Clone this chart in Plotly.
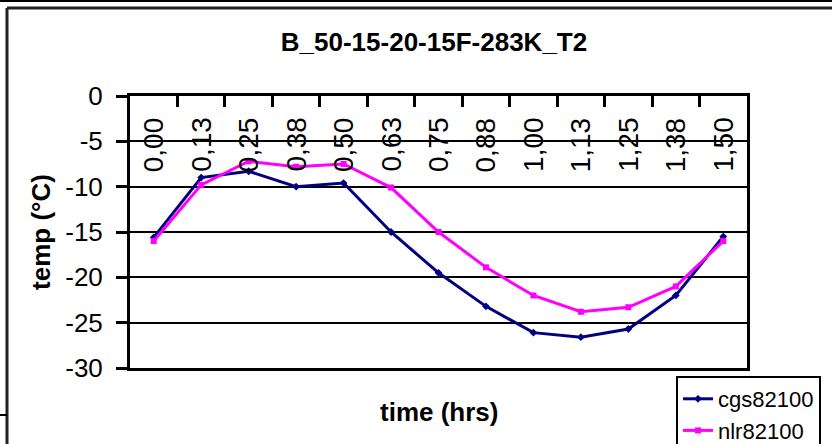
import plotly.graph_objects as go

# ---- data ----
time_labels = ["0,00", "0,13", "0,25", "0,38", "0,50", "0,63", "0,75",
               "0,88", "1,00", "1,13", "1,25", "1,38", "1,50"]
cgs82100 = [-15.6, -9.0, -8.3, -10.0, -9.6, -15.0, -19.5, -23.2, -26.1, -26.6, -25.7, -22.0, -15.5]
nlr82100 = [-16.0, -9.8, -7.2, -7.8, -7.5, -10.1, -15.0, -18.9, -22.0, -23.8, -23.3, -21.0, -16.0]
y_tickvals = [0, -5, -10, -15, -20, -25, -30]
y_ticktext = ["0", "-5", "-10", "-15", "-20", "-25", "-30"]

W, H = 832, 444
L, R, T, B = 130, 747, 96, 368
FONT = "Liberation Sans, Arial, sans-serif"


def pxx(px):
    return (px - L) / (R - L)


def pxy(py):
    return (B - py) / (B - T)


fig = go.Figure()
fig.add_trace(go.Scatter(
    x=time_labels, y=cgs82100, name="cgs82100", mode="lines+markers",
    line=dict(color="#000080", width=3),
    marker=dict(symbol="diamond", size=6, color="#000080"),
))
fig.add_trace(go.Scatter(
    x=time_labels, y=nlr82100, name="nlr82100", mode="lines+markers",
    line=dict(color="#FF00FF", width=3),
    marker=dict(symbol="square", size=6, color="#FF00FF"),
))

# category tick labels drawn just below the x axis line (which sits at y = 0)
tick_annotations = [
    dict(text=lab, xref="x", yref="paper", x=lab, y=pxy(115),
         xanchor="center", yanchor="top", textangle=-90, showarrow=False,
         font=dict(size=28, family=FONT, color="black"))
    for lab in time_labels
]

fig.update_layout(
    width=W, height=H,
    margin=dict(l=L, r=W - R, t=T, b=H - B, autoexpand=False),
    paper_bgcolor="white", plot_bgcolor="white",
    font=dict(family=FONT, color="black"),
    title=dict(text="<b>B_50-15-20-15F-283K_T2</b>", x=434 / W, xanchor="center",
               y=1 - 42 / H, yanchor="middle", yref="container",
               font=dict(size=26, family=FONT, color="black")),
    showlegend=True,
    legend=dict(x=pxx(676), y=pxy(376), xanchor="left", yanchor="top",
                bordercolor="black", borderwidth=2, bgcolor="white",
                font=dict(size=22, family=FONT, color="black"),
                itemwidth=30, tracegroupgap=0),
    xaxis=dict(type="category", side="top", range=[-0.5, 12.5],
               ticks="inside", tickson="boundaries", ticklen=11, tickwidth=3, tickcolor="black",
               showticklabels=False,
               showline=True, linecolor="black", linewidth=3, mirror=True,
               showgrid=False, zeroline=False, fixedrange=True),
    yaxis=dict(range=[-30, 0], tickvals=y_tickvals, ticktext=y_ticktext,
               ticks="outside", ticklen=11, tickwidth=3, tickcolor="black",
               ticklabelstandoff=8,
               tickfont=dict(size=26, family=FONT, color="black"),
               showline=True, linecolor="black", linewidth=3, mirror=True,
               showgrid=True, gridcolor="black", gridwidth=1.5, zeroline=False,
               title=dict(text="<b>temp (°C)</b>", standoff=8,
                          font=dict(size=26, family=FONT, color="black")),
               fixedrange=True),
    annotations=tick_annotations + [
        dict(text="<b>time (hrs)</b>", xref="paper", yref="paper",
             x=pxx(439), y=pxy(412), xanchor="center", yanchor="middle",
             showarrow=False, font=dict(size=26, family=FONT, color="black"))],
    shapes=[
        dict(type="line", xref="paper", yref="paper", x0=pxx(-5), x1=pxx(840),
             y0=pxy(1), y1=pxy(1), line=dict(color="black", width=2)),
        dict(type="line", xref="paper", yref="paper", x0=pxx(7), x1=pxx(840),
             y0=pxy(8), y1=pxy(8), line=dict(color="#222222", width=3)),
        dict(type="line", xref="paper", yref="paper", x0=pxx(7), x1=pxx(7),
             y0=pxy(8), y1=pxy(450), line=dict(color="#222222", width=3)),
        dict(type="line", xref="paper", yref="paper", x0=pxx(-5), x1=pxx(7),
             y0=pxy(415), y1=pxy(415), line=dict(color="black", width=2)),
    ],
)

fig.write_html("out.html")
